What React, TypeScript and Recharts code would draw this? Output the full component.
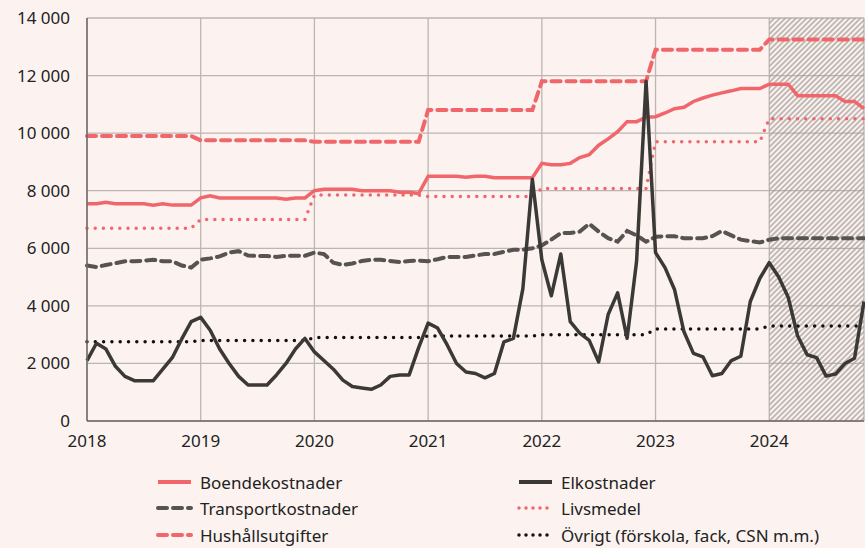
import { LineChart, Line, XAxis, YAxis, CartesianGrid, ReferenceArea } from 'recharts';

// monthly values, Jan 2018 – Nov 2024 (kr per month)
const boende = [
  7550, 7550, 7600, 7550, 7550, 7550, 7550, 7500, 7550, 7500, 7500, 7500,
  7750, 7820, 7750, 7750, 7750, 7750, 7750, 7750, 7750, 7700, 7750, 7750,
  8000, 8050, 8050, 8050, 8050, 8000, 8000, 8000, 8000, 7950, 7950, 7900,
  8500, 8500, 8500, 8500, 8470, 8500, 8500, 8450, 8450, 8450, 8450, 8450,
  8950, 8900, 8900, 8950, 9150, 9250, 9580, 9800, 10050, 10400, 10400, 10550,
  10570, 10700, 10850, 10900, 11100, 11220, 11320, 11400, 11470, 11550, 11550, 11550,
  11700, 11700, 11700, 11300, 11300, 11300, 11300, 11300, 11100, 11100, 10850,
];

const el = [
  2100, 2700, 2500, 1900, 1550, 1400, 1400, 1400, 1800, 2200, 2850, 3450,
  3600, 3150, 2500, 2000, 1550, 1250, 1250, 1250, 1600, 2000, 2500, 2870,
  2400, 2100, 1800, 1420, 1200, 1150, 1100, 1250, 1550, 1600, 1600, 2550,
  3400, 3230, 2650, 2000, 1700, 1650, 1500, 1650, 2750, 2870, 4600, 8400,
  5600, 4350, 5800, 3450, 3050, 2800, 2050, 3700, 4450, 2870, 5550, 11800,
  5850, 5330, 4570, 3100, 2350, 2230, 1570, 1650, 2100, 2250, 4150, 4950,
  5500, 5000, 4300, 2950, 2300, 2200, 1560, 1630, 2000, 2180, 4150,
];

const transport = [
  5400, 5350, 5420, 5480, 5550, 5550, 5570, 5600, 5550, 5550, 5400, 5330,
  5600, 5650, 5720, 5850, 5900, 5750, 5730, 5730, 5700, 5740, 5740, 5740,
  5850, 5800, 5500, 5420, 5470, 5560, 5600, 5600, 5560, 5520, 5560, 5570,
  5550, 5620, 5700, 5700, 5700, 5750, 5800, 5800, 5880, 5950, 5950, 6000,
  6100, 6300, 6530, 6530, 6580, 6850, 6580, 6350, 6230, 6600, 6450, 6230,
  6400, 6420, 6420, 6350, 6350, 6350, 6420, 6600, 6450, 6300, 6250, 6200,
  6300, 6350, 6350, 6350, 6350, 6350, 6350, 6350, 6350, 6350, 6350,
];

const livsmedel = [
  6700, 6700, 6700, 6700, 6700, 6700, 6700, 6700, 6700, 6700, 6700, 6700,
  7000, 7000, 7000, 7000, 7000, 7000, 7000, 7000, 7000, 7000, 7000, 7000,
  7850, 7850, 7850, 7850, 7850, 7850, 7850, 7850, 7850, 7850, 7850, 7850,
  7800, 7800, 7800, 7800, 7800, 7800, 7800, 7800, 7800, 7800, 7800, 7800,
  8080, 8080, 8080, 8080, 8080, 8080, 8080, 8080, 8080, 8080, 8080, 8080,
  9700, 9700, 9700, 9700, 9700, 9700, 9700, 9700, 9700, 9700, 9700, 9700,
  10500, 10500, 10500, 10500, 10500, 10500, 10500, 10500, 10500, 10500, 10500,
];

const hushall = [
  9900, 9900, 9900, 9900, 9900, 9900, 9900, 9900, 9900, 9900, 9900, 9900,
  9750, 9750, 9750, 9750, 9750, 9750, 9750, 9750, 9750, 9750, 9750, 9750,
  9700, 9700, 9700, 9700, 9700, 9700, 9700, 9700, 9700, 9700, 9700, 9700,
  10800, 10800, 10800, 10800, 10800, 10800, 10800, 10800, 10800, 10800, 10800, 10800,
  11800, 11800, 11800, 11800, 11800, 11800, 11800, 11800, 11800, 11800, 11800, 11800,
  12900, 12900, 12900, 12900, 12900, 12900, 12900, 12900, 12900, 12900, 12900, 12900,
  13250, 13250, 13250, 13250, 13250, 13250, 13250, 13250, 13250, 13250, 13250,
];

const ovrigt = [
  2750, 2750, 2750, 2750, 2750, 2750, 2750, 2750, 2750, 2750, 2750, 2750,
  2800, 2800, 2800, 2800, 2800, 2800, 2800, 2800, 2800, 2800, 2800, 2800,
  2900, 2900, 2900, 2900, 2900, 2900, 2900, 2900, 2900, 2900, 2900, 2900,
  2950, 2950, 2950, 2950, 2950, 2950, 2950, 2950, 2950, 2950, 2950, 2950,
  3000, 3000, 3000, 3000, 3000, 3000, 3000, 3000, 3000, 3000, 3000, 3000,
  3200, 3200, 3200, 3200, 3200, 3200, 3200, 3200, 3200, 3200, 3200, 3200,
  3300, 3300, 3300, 3300, 3300, 3300, 3300, 3300, 3300, 3300, 3300,
];

const yearTicks = [0, 12, 24, 36, 48, 60, 72];
const yearLabels = ['2018', '2019', '2020', '2021', '2022', '2023', '2024'];
const valueTicks = [0, 2000, 4000, 6000, 8000, 10000, 12000, 14000];
const forecastStart = 72;

const RED = '#f0666a';
const DARK = '#3b3937';
const GREY = '#575350';
const FONT = '"Noto Sans", sans-serif';

const data = el.map((_, i) => ({
  m: i,
  boende: boende[i],
  el: el[i],
  transport: transport[i],
  livsmedel: livsmedel[i],
  hushall: hushall[i],
  ovrigt: ovrigt[i],
}));

const fmt = (v: number) => String(v).replace(/\B(?=(\d{3})+(?!\d))/g, ' ');

const legendItems = [
  { label: 'Boendekostnader', color: RED, width: 4, dash: undefined, col: 0, row: 0 },
  { label: 'Elkostnader', color: DARK, width: 4, dash: undefined, col: 1, row: 0 },
  { label: 'Transportkostnader', color: GREY, width: 4, dash: '9 6', col: 0, row: 1 },
  { label: 'Livsmedel', color: RED, width: 3.5, dash: '0 7', col: 1, row: 1 },
  { label: 'Hushållsutgifter', color: RED, width: 4, dash: '9 6', col: 0, row: 2 },
  { label: 'Övrigt (förskola, fack, CSN m.m.)', color: '#111', width: 3.5, dash: '0 7', col: 1, row: 2 },
];

function LegendBlock() {
  return (
    <>
      {legendItems.map((it) => (
        <div
          key={it.label}
          style={{
            position: 'absolute',
            left: it.col === 0 ? 155 : 516,
            top: [482, 508, 535][it.row] - 12,
            height: 24,
            display: 'flex',
            alignItems: 'center',
            fontFamily: FONT,
            fontSize: 17,
            color: '#222',
            whiteSpace: 'nowrap',
          }}
        >
          <svg width={40} height={10} style={{ marginRight: 5 }}>
            <line
              x1={3}
              y1={5}
              x2={36}
              y2={5}
              stroke={it.color}
              strokeWidth={it.width}
              strokeDasharray={it.dash}
              strokeLinecap={it.dash ? 'round' : 'butt'}
            />
          </svg>
          {it.label}
        </div>
      ))}
    </>
  );
}

export default function App() {
  return (
    <div style={{ position: 'absolute', left: 0, top: 0, width: 865, height: 548, background: '#fcf3f0' }}>
      <LineChart width={865} height={548} data={data} margin={{ top: 18, right: 1, left: 0, bottom: 97 }}>
        <defs>
          <pattern id="hatch" patternUnits="userSpaceOnUse" width="3.8" height="3.8" patternTransform="rotate(45)">
            <line x1="1.9" y1="0" x2="1.9" y2="3.8" stroke="#a39d9a" strokeWidth="1.3" />
          </pattern>
        </defs>
        <CartesianGrid stroke="#bdb5b2" strokeWidth={1.3} />
        <ReferenceArea x1={forecastStart} x2={82} y1={0} y2={14000} fill="url(#hatch)" fillOpacity={1} stroke="none" />
        <XAxis
          dataKey="m"
          type="number"
          domain={[0, 82]}
          ticks={yearTicks}
          tickFormatter={(v) => yearLabels[yearTicks.indexOf(v)]}
          tick={{ fill: '#222', fontSize: 17, fontFamily: FONT }}
          tickLine={false}
          tickSize={0}
          tickMargin={14}
          axisLine={{ stroke: '#6e6a68', strokeWidth: 1.5 }}
          height={30}
        />
        <YAxis
          domain={[0, 14000]}
          ticks={valueTicks}
          tickFormatter={fmt}
          tick={{ fill: '#222', fontSize: 17, fontFamily: FONT }}
          tickLine={false}
          tickSize={0}
          tickMargin={17}
          axisLine={{ stroke: '#6e6a68', strokeWidth: 1.5 }}
          width={87}
        />
        <Line dataKey="hushall" stroke={RED} strokeWidth={4} strokeDasharray="9 6" strokeLinecap="round" dot={false} isAnimationActive={false} />
        <Line dataKey="boende" stroke={RED} strokeWidth={3.5} dot={false} isAnimationActive={false} />
        <Line dataKey="livsmedel" stroke={RED} strokeWidth={3.5} strokeDasharray="0 8.2" strokeLinecap="round" dot={false} isAnimationActive={false} />
        <Line dataKey="transport" stroke={GREY} strokeWidth={4} strokeDasharray="9 6" strokeLinecap="round" dot={false} isAnimationActive={false} />
        <Line dataKey="ovrigt" stroke="#111" strokeWidth={3.5} strokeDasharray="0 8.3" strokeLinecap="round" dot={false} isAnimationActive={false} />
        <Line dataKey="el" stroke={DARK} strokeWidth={3.5} strokeLinejoin="round" dot={false} isAnimationActive={false} />
      </LineChart>
      <LegendBlock />
    </div>
  );
}
